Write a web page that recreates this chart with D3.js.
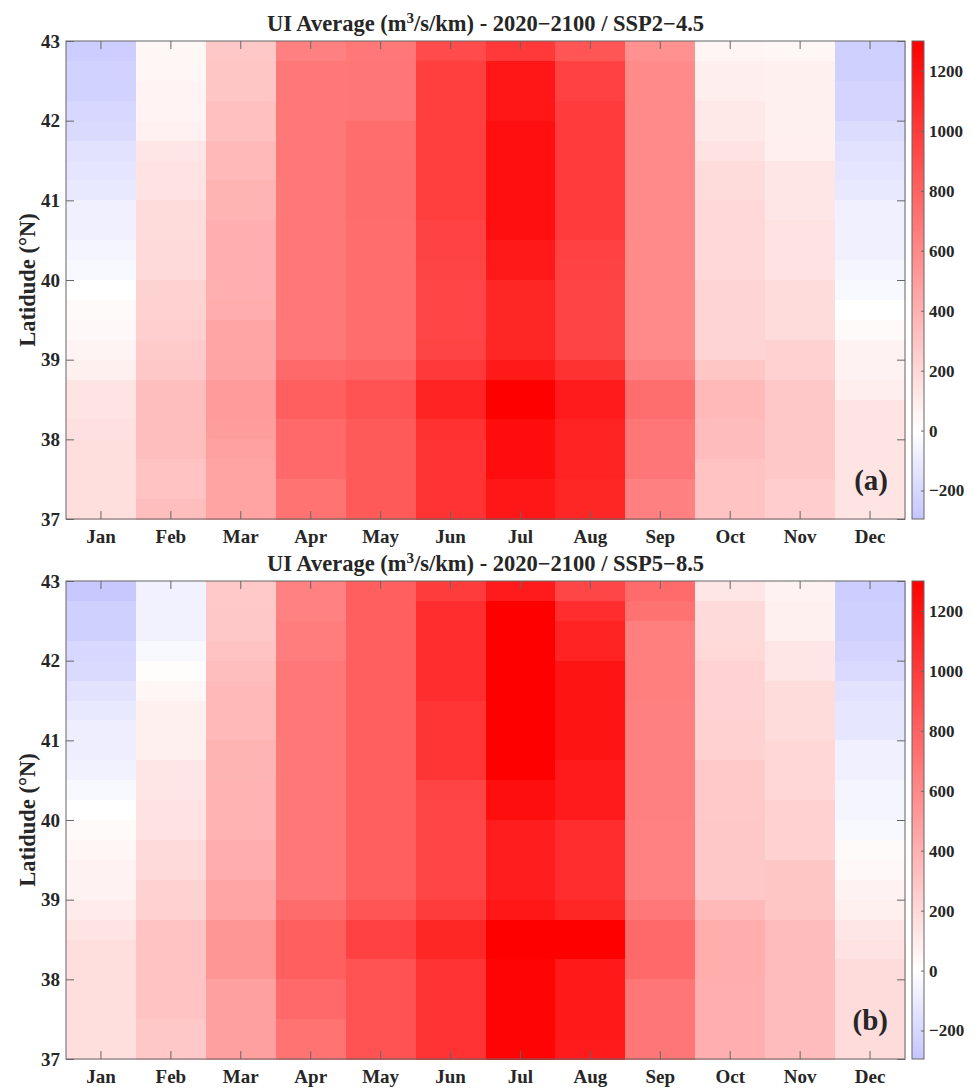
<!DOCTYPE html>
<html>
<head>
<meta charset="utf-8">
<script src="https://cdn.jsdelivr.net/npm/d3@7"></script>
<style>
  body { margin: 0; background: #fff; }
  text { font-family: "Liberation Serif", "Times New Roman", serif; font-weight: bold; fill: #262626; }
</style>
</head>
<body>
<script>
// months on x, latitude rows (lower edge, north -> south) on y
const months = ["Jan", "Feb", "Mar", "Apr", "May", "Jun", "Jul", "Aug", "Sep", "Oct", "Nov", "Dec"];
const latBottoms = [42.75, 42.5, 42.25, 42, 41.75, 41.5, 41.25, 41, 40.75, 40.5, 40.25, 40,
                    39.75, 39.5, 39.25, 39, 38.75, 38.5, 38.25, 38, 37.75, 37.5, 37.25, 37];
const latStep = 0.25;
const latTicks = [37, 38, 39, 40, 41, 42, 43];
const cbarTicks = [-200, 0, 200, 400, 600, 800, 1000, 1200];

// UI values (m3/s/km), one array per month, rows north -> south
const ssp245 = [
  [-255,-230,-230,-205,-190,-150,-135,-115,-75,-75,-50,-35,0,25,35,55,75,140,140,160,170,170,170,170],
  [45,45,60,60,70,130,150,150,180,180,190,190,230,230,245,270,280,330,330,330,330,305,305,330],
  [280,290,290,320,320,355,355,380,380,410,410,410,410,420,460,460,465,510,510,505,480,470,470,470],
  [650,690,690,690,690,690,690,690,690,690,690,690,690,690,690,690,765,815,815,765,765,765,715,715],
  [690,700,700,700,745,745,750,750,750,745,745,745,745,745,745,745,790,880,880,840,840,840,840,840],
  [920,985,985,985,985,985,985,985,985,965,960,955,950,950,950,955,1010,1120,1120,1050,1040,1040,1040,1040],
  [1010,1190,1190,1190,1225,1225,1225,1225,1225,1225,1175,1175,1105,1105,1105,1105,1175,1300,1300,1240,1240,1240,1190,1190],
  [865,970,970,1000,1000,1000,1000,1000,1000,1000,970,960,955,955,955,955,1045,1160,1160,1120,1120,1120,1105,1105],
  [560,595,595,595,595,595,595,595,595,595,595,595,595,595,595,595,650,740,740,700,700,700,650,650],
  [50,85,85,115,115,145,180,180,195,195,195,195,220,220,220,220,290,355,355,340,340,305,305,305],
  [45,75,75,75,75,80,125,125,125,150,150,150,180,180,180,230,230,280,280,280,280,280,255,255],
  [-240,-240,-220,-220,-180,-150,-135,-115,-75,-75,-75,-50,-35,0,25,65,65,85,140,140,140,140,140,140]
];

const ssp585 = [
  [-280,-240,-240,-205,-190,-150,-115,-85,-85,-65,-35,0,25,45,65,65,100,140,170,170,170,170,170,170],
  [-70,-65,-65,-35,15,45,75,75,75,125,125,150,150,190,190,230,230,305,305,305,305,305,280,280],
  [275,280,280,305,330,355,355,355,380,380,390,390,390,420,420,460,460,535,535,535,485,485,485,485],
  [640,640,665,665,690,690,690,690,690,690,690,690,690,690,690,690,750,815,815,815,765,765,715,715],
  [815,815,815,815,815,815,815,815,815,815,815,815,815,815,815,815,865,970,970,880,880,880,880,880],
  [995,1070,1070,1070,1070,1070,1035,1035,1035,1035,955,950,950,950,950,950,995,1105,1105,1040,1040,1040,1040,1040],
  [1160,1300,1300,1300,1300,1300,1300,1300,1300,1300,1230,1230,1150,1150,1150,1150,1190,1300,1300,1280,1280,1280,1280,1280],
  [945,1070,1120,1120,1200,1200,1200,1200,1200,1160,1160,1160,1070,1070,1070,1070,1105,1300,1300,1175,1175,1175,1175,1160],
  [760,720,660,660,655,655,650,650,650,650,645,645,640,640,640,640,690,765,765,765,700,700,700,700],
  [130,190,190,200,225,225,225,230,230,275,275,275,280,280,280,280,355,420,420,420,410,410,410,410],
  [65,75,75,125,130,180,180,180,205,205,205,230,230,230,290,290,290,340,340,340,340,340,340,340],
  [-255,-240,-240,-220,-190,-150,-125,-125,-75,-75,-50,-50,-35,25,35,65,75,125,150,180,180,180,180,180]
];

const cmin = -295, cmax = 1300;

// white at 0, red for upwelling, blue for downwelling (same slope both sides)
function uiColor(v) {
  const t = Math.min(1, Math.abs(v) / cmax);
  const c = Math.round(255 * (1 - t));
  return v >= 0 ? d3.rgb(255, c, c) : d3.rgb(c, c, 255);
}

const svg = d3.select("body").append("svg")
  .attr("width", 974)
  .attr("height", 1088);

const defs = svg.append("defs");
const grad = defs.append("linearGradient")
  .attr("id", "cbar")
  .attr("x1", 0).attr("y1", 1).attr("x2", 0).attr("y2", 0);
[cmin, 0, cmax].forEach(v => {
  grad.append("stop")
    .attr("offset", (v - cmin) / (cmax - cmin))
    .attr("stop-color", uiColor(v));
});

const left = 66, right = 905, plotH = 478;
const axisColor = "#666";
const fmt = d3.format("d");

function drawPanel(top, values, scenario, tag) {
  const bottom = top + plotH;
  const x = d3.scaleBand().domain(months).range([left, right]);
  const y = d3.scaleLinear().domain([37, 43]).range([bottom, top]);
  const g = svg.append("g");

  // cells
  months.forEach((m, mi) => {
    g.append("g").selectAll("rect")
      .data(values[mi])
      .join("rect")
      .attr("x", x(m))
      .attr("width", x.bandwidth() + 0.5)
      .attr("y", (d, i) => y(latBottoms[i] + latStep))
      .attr("height", (d, i) => y(latBottoms[i]) - y(latBottoms[i] + latStep) + 0.5)
      .attr("fill", d => uiColor(d))
      .attr("shape-rendering", "crispEdges");
  });

  // axes, ticks pointing inward
  const xb = g.append("g").attr("transform", `translate(0,${bottom})`)
    .call(d3.axisBottom(x).tickSize(-8).tickSizeOuter(0).tickPadding(11));
  const xt = g.append("g").attr("transform", `translate(0,${top})`)
    .call(d3.axisTop(x).tickSize(-8).tickSizeOuter(0).tickFormat(""));
  const yl = g.append("g").attr("transform", `translate(${left},0)`)
    .call(d3.axisLeft(y).tickValues(latTicks).tickFormat(fmt).tickSize(-8).tickSizeOuter(0).tickPadding(6));
  const yr = g.append("g").attr("transform", `translate(${right},0)`)
    .call(d3.axisRight(y).tickValues(latTicks).tickSize(-8).tickSizeOuter(0).tickFormat(""));
  [xb, xt, yl, yr].forEach(a => {
    a.select(".domain").remove();
    a.selectAll(".tick line").attr("stroke", axisColor);
    a.selectAll("text").attr("font-size", 19).attr("fill", "#262626")
      .attr("font-family", null);
  });

  g.append("rect")
    .attr("x", left).attr("y", top)
    .attr("width", right - left).attr("height", plotH)
    .attr("fill", "none").attr("stroke", axisColor);

  // title
  const title = g.append("text")
    .attr("x", (left + right) / 2)
    .attr("y", top - 10)
    .attr("text-anchor", "middle")
    .attr("font-size", 22.5);
  title.append("tspan").text("UI Average (m");
  title.append("tspan").attr("dy", -8).attr("font-size", 15).text("3");
  title.append("tspan").attr("dy", 8).text("/s/km) - 2020\u22122100 / " + scenario);

  // y label
  g.append("text")
    .attr("transform", `translate(35,${(top + bottom) / 2}) rotate(-90)`)
    .attr("text-anchor", "middle")
    .attr("font-size", 22.5)
    .text("Latidude (\u00b0N)");

  // panel tag
  g.append("text")
    .attr("x", 888).attr("y", bottom - 29)
    .attr("text-anchor", "end")
    .attr("font-size", 29)
    .text(tag);

  // colorbar
  const cx = 912, cw = 12;
  const cy = d3.scaleLinear().domain([cmin, cmax]).range([bottom, top]);
  g.append("rect")
    .attr("x", cx).attr("y", top)
    .attr("width", cw).attr("height", plotH)
    .attr("fill", "url(#cbar)")
    .attr("stroke", axisColor);
  const ca = g.append("g").attr("transform", `translate(${cx + cw},0)`)
    .call(d3.axisRight(cy).tickValues(cbarTicks).tickFormat(fmt).tickSize(-3).tickSizeOuter(0).tickPadding(5));
  ca.select(".domain").remove();
  ca.selectAll(".tick line").attr("stroke", axisColor);
  ca.selectAll("text").attr("font-size", 17).attr("fill", "#262626").attr("font-family", null);
}

drawPanel(41, ssp245, "SSP2\u22124.5", "(a)");
drawPanel(581, ssp585, "SSP5\u22128.5", "(b)");
</script>
</body>
</html>
